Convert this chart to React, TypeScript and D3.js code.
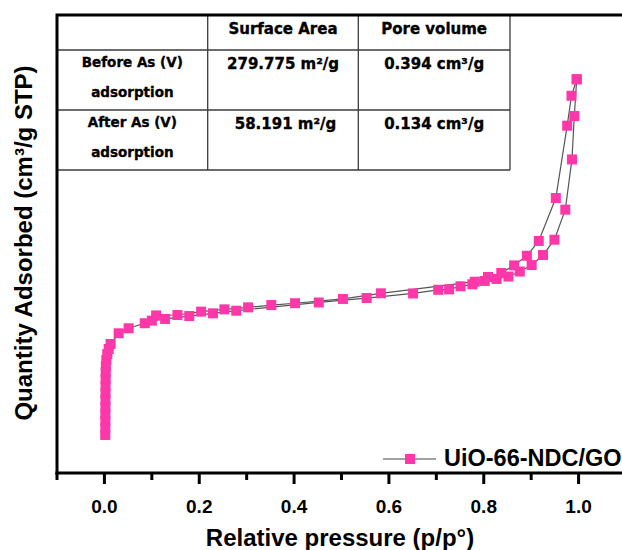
import React from 'react';
import * as d3 from 'd3';

// N2 isotherm of UiO-66-NDC/GO: relative pressure vs quantity adsorbed (cm³/g STP)
const adsorptionP = [
  0.0018, 0.0019, 0.002, 0.002, 0.0021, 0.0022, 0.0023, 0.0024, 0.0025, 0.0027,
  0.003, 0.004, 0.006, 0.009, 0.013,
  0.03, 0.051, 0.085, 0.1, 0.128, 0.179, 0.229, 0.278, 0.452, 0.553, 0.651,
  0.704, 0.727, 0.751, 0.776, 0.802, 0.827, 0.852, 0.876, 0.901, 0.925, 0.949,
  0.972, 0.986, 0.991, 0.996,
];
const adsorptionQ = [
  24.9, 29.5, 34.1, 38.6, 43.2, 47.8, 52.4, 57.0, 61.6, 66.2,
  70.1, 74.0, 77.9, 81.2, 84.5,
  91.5, 94.8, 98.1, 99.8, 100.9, 102.8, 104.6, 106.3, 111.7, 114.6, 117.6,
  120.0, 120.3, 122.3, 123.6, 125.8, 127.1, 128.7, 132.0, 136.2, 142.8, 152.8,
  172.5, 205.4, 233.8, 257.9,
];
const desorptionP = [
  0.996, 0.985, 0.976, 0.952, 0.916, 0.891, 0.864, 0.837, 0.809, 0.781,
  0.583, 0.503, 0.402, 0.352, 0.303, 0.253, 0.204, 0.154, 0.109,
];
const desorptionQ = [
  257.9, 247.1, 227.5, 180.1, 152.0, 142.3, 136.0, 131.0, 128.4, 125.3,
  117.7, 114.0, 111.2, 110.0, 108.5, 107.2, 105.7, 103.5, 103.2,
];

const xMajorTicks = [0, 0.2, 0.4, 0.6, 0.8, 1.0];
const xMinorTicks = [-0.1, 0.1, 0.3, 0.5, 0.7, 0.9, 1.1];

const tableHeaders = ['Surface Area', 'Pore volume'];
const sampleLabels = [
  ['Before As (V)', 'adsorption'],
  ['After As (V)', 'adsorption'],
];
const surfaceAreas = ['279.775 m²/g', '58.191 m²/g'];
const poreVolumes = ['0.394 cm³/g', '0.134 cm³/g'];

const seriesName = 'UiO-66-NDC/GO';
const xTitle = 'Relative pressure (p/p°)';
const yTitle = 'Quantity Adsorbed (cm³/g STP)';

const W = 622;
const H = 550;
const M = { left: 57, top: 15, bottom: 473 };
const PINK = '#ff37a8';
const SANS = '"Liberation Sans", Arial, sans-serif';
const TABLE_FONT = '"DejaVu Sans", Verdana, sans-serif';

export default function App() {
  const x = d3.scaleLinear().domain([-0.1, 1.1]).range([M.left, M.left + 569]);
  const y = d3.scaleLinear().domain([0, 300]).range([M.bottom, M.top]);

  const ads = adsorptionP.map((p, i) => [p, adsorptionQ[i]] as [number, number]);
  const des = desorptionP.map((p, i) => [p, desorptionQ[i]] as [number, number]);
  const line = d3
    .line<[number, number]>()
    .x((d) => x(d[0]))
    .y((d) => y(d[1]));

  const ms = 10;
  const right = x(1.1);

  // table grid
  const colEdges = [M.left, 207.7, 358.3, 510];
  const rowEdges = [M.top, 50, 110, 170];
  const colCenter = (i: number) => (colEdges[i] + colEdges[i + 1]) / 2;

  return (
    <svg
      width={W}
      height={H}
      style={{ position: 'absolute', left: 0, top: 0, background: '#fff' }}
    >
      <rect x={0} y={0} width={W} height={H} fill="#fff" />

      {/* isotherm branches */}
      <path d={line(ads) ?? ''} fill="none" stroke="#555" strokeWidth={1.2} />
      <path d={line(des) ?? ''} fill="none" stroke="#555" strokeWidth={1.2} />
      {[...ads, ...des].map((d, i) => (
        <rect
          key={i}
          x={x(d[0]) - ms / 2}
          y={y(d[1]) - ms / 2}
          width={ms}
          height={ms}
          fill={PINK}
        />
      ))}

      {/* table */}
      <g stroke="#3a3a3a" strokeWidth={1.3}>
        {rowEdges.slice(1).map((r, i) => (
          <line key={'h' + i} x1={colEdges[0]} x2={colEdges[3]} y1={r} y2={r} />
        ))}
        {colEdges.slice(1).map((c, i) => (
          <line key={'v' + i} x1={c} x2={c} y1={rowEdges[0]} y2={rowEdges[3]} />
        ))}
      </g>
      <g
        fontFamily={TABLE_FONT}
        fontWeight="bold"
        fill="#000"
        stroke="#000"
        strokeWidth={0.35}
        textAnchor="middle"
      >
        {tableHeaders.map((t, i) => (
          <text key={t} x={colCenter(i + 1)} y={rowEdges[0] + 19.3} fontSize={15}>
            {t}
          </text>
        ))}
        {sampleLabels.map((lines, r) => (
          <g key={r}>
            <text x={colCenter(0)} y={rowEdges[r + 1] + 16.9} fontSize={13.5}>
              {lines[0]}
            </text>
            <text x={colCenter(0)} y={rowEdges[r + 1] + 46.5} fontSize={13.5}>
              {lines[1]}
            </text>
            <text x={colCenter(1) + (r === 1 ? 2.5 : 0)} y={rowEdges[r + 1] + 19} fontSize={15}>
              {surfaceAreas[r]}
            </text>
            <text x={colCenter(2)} y={rowEdges[r + 1] + 19} fontSize={15}>
              {poreVolumes[r]}
            </text>
          </g>
        ))}
      </g>

      {/* frame */}
      <path
        d={`M${M.left},${M.bottom + 1.5}V${M.top}H${right}`}
        fill="none"
        stroke="#000"
        strokeWidth={3}
      />
      <line x1={M.left - 1.5} x2={right} y1={M.bottom} y2={M.bottom} stroke="#000" strokeWidth={3} />

      {/* x axis ticks */}
      {xMajorTicks.map((t) => (
        <line key={'M' + t} x1={x(t)} x2={x(t)} y1={M.bottom} y2={M.bottom + 11} stroke="#000" strokeWidth={3} />
      ))}
      {xMinorTicks.map((t) => (
        <line key={'m' + t} x1={x(t)} x2={x(t)} y1={M.bottom} y2={M.bottom + 7} stroke="#000" strokeWidth={3} />
      ))}
      {xMajorTicks.map((t) => (
        <text
          key={'l' + t}
          x={x(t)}
          y={513}
          textAnchor="middle"
          fontFamily={SANS}
          fontWeight="bold"
          fontSize={19}
        >
          {d3.format('.1f')(t)}
        </text>
      ))}

      {/* axis titles */}
      <text
        x={340}
        y={546}
        textAnchor="middle"
        fontFamily={SANS}
        fontWeight="bold"
        fontSize={24}
      >
        {xTitle}
      </text>
      <text
        transform={`translate(32, 243) rotate(-90)`}
        textAnchor="middle"
        fontFamily={SANS}
        fontWeight="bold"
        fontSize={24}
      >
        {yTitle}
      </text>

      {/* legend */}
      <line x1={383} x2={436} y1={459} y2={459} stroke="#444" strokeWidth={1.2} />
      <rect x={410 - ms / 2} y={459 - ms / 2} width={ms} height={ms} fill={PINK} />
      <text x={444} y={466} fontFamily={SANS} fontWeight="bold" fontSize={23.5}>
        {seriesName}
      </text>
    </svg>
  );
}
